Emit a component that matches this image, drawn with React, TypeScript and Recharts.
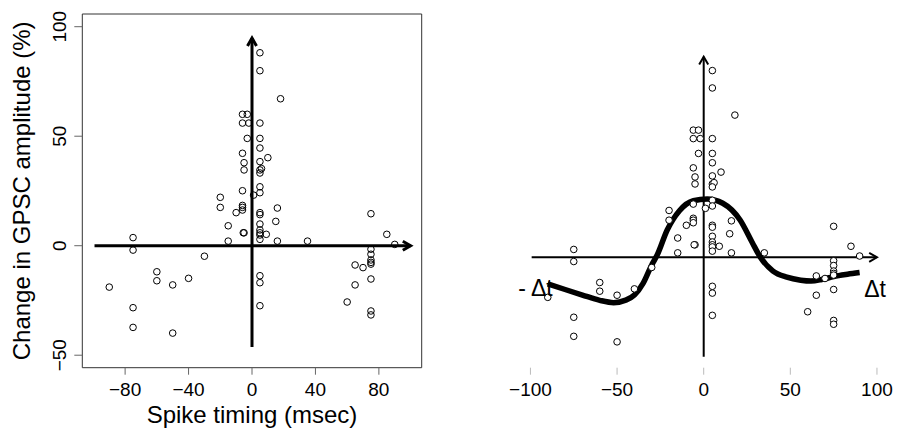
import React from 'react';
import { ComposedChart, Scatter, XAxis, YAxis, ReferenceLine, ReferenceArea, ReferenceDot } from 'recharts';

const FONT = '"Liberation Sans", Arial, Helvetica, sans-serif';

// Spike timing (msec) and change in GPSC amplitude (%) for each recorded pair
const spikeTiming = [
  5, 5, 18, -6, -3, -6, -2, 5, -3, 5, 5, -6, 5, 10, -5, -5, 5, 6, 5, 5, -6, 1, 5, -20,
  -20, -6, -6, -6, -10, 5, 5, 16, 75, -15, 5, 15, -5, -5.5, 5, 5, 5, 5, 9, 85, -15, 16, 35,
  -75, -75, 90, 75, 75, 75, 75, 75, -30, -60, -60, -40, -50, -90, 65, 70, 75, 65, 60,
  5, 5, 5, 75, 75, -75, -75, -50,
];
const ampChange = [
  88.1, 79.9, 67.1, 60, 60, 56, 56, 56, 49, 49, 44.6, 42.2, 38.4, 40.2, 37.9, 34.6, 34.6, 35.2, 33.2, 26.9, 25.1, 23.1, 24.2, 22.1,
  17.5, 18.4, 17.5, 16.3, 15.1, 15.1, 14.2, 17.2, 14.6, 9.1, 9.9, 11.1, 5.9, 5.9, 7.2, 5.9, 4.9, 2.9, 5.2, 5.2, 2.1, 2.1, 2.1,
  3.7, -2, 0.6, -1.6, -3.9, -6.5, -7.6, -8.4, -4.8, -11.9, -16, -14.9, -17.9, -18.9, -8.8, -10, -15.2, -17.9, -25.7,
  -13.7, -16.9, -27.4, -29.8, -31.6, -28.3, -37.3, -39.9,
];

// Fitted STDP curve (right panel)
const curveX = [-90, -80, -70, -60, -52, -45, -40, -35, -30, -27, -21, -14, -6, 2, 11, 21, 28, 32.5, 40, 48, 56, 62, 68, 75, 83, 90];
const curveY = [-12.5, -15.2, -17.8, -20.3, -21.4, -20.2, -17.8, -12.3, -3.6, 0.8, 13, 22, 26.7, 27.5, 25.5, 17.6, 7, 0.3, -6.5, -9.4, -10.8, -11.2, -10.5, -9.1, -8, -7.2];

const leftXTicks = [-80, -40, 0, 40, 80];
const leftYTicks = [-50, 0, 50, 100];
const rightXTicks = [-100, -50, 0, 50, 100];

const points = spikeTiming.map((x, i) => ({ x, y: ampChange[i] }));
const curve = curveX.map((x, i) => ({ x, y: curveY[i] }));

const fmt = (v: number) => (v < 0 ? '\u2212' + Math.abs(v) : String(v));

const arrowShape = (w: number) => (p: any) => {
  const { x1, y1, x2, y2 } = p;
  const ang = Math.atan2(y2 - y1, x2 - x1);
  const L = 9;
  const a = Math.PI / 6;
  const hx1 = x2 - L * Math.cos(ang - a);
  const hy1 = y2 - L * Math.sin(ang - a);
  const hx2 = x2 - L * Math.cos(ang + a);
  const hy2 = y2 - L * Math.sin(ang + a);
  return (
    <g>
      <line x1={x1} y1={y1} x2={x2} y2={y2} stroke="#000" strokeWidth={w} />
      <polyline points={`${hx1},${hy1} ${x2},${y2} ${hx2},${hy2}`} fill="none" stroke="#000" strokeWidth={w} />
    </g>
  );
};

const YTick = (props: any) => {
  const { x, y, payload } = props;
  return (
    <text x={x} y={y} transform={`rotate(-90, ${x}, ${y})`} textAnchor="middle" fontSize={19} fill="#000" fontFamily={FONT}>
      {fmt(payload.value)}
    </text>
  );
};

const openCircle = (fill: string) => (p: any) => (
  <circle cx={p.cx} cy={p.cy} r={3.3} fill={fill} stroke="#000" strokeWidth={1} />
);

const textDot = (label: string) => (p: any) => (
  <text x={p.cx} y={p.cy} textAnchor="middle" fontSize={23} fill="#000" fontFamily={FONT}>
    {label}
  </text>
);

const tickStyle = { fill: '#000', fontSize: 19, fontFamily: FONT };

export default function App() {
  return (
    <div style={{ position: 'absolute', left: 0, top: 0, width: 907, height: 435, background: '#fff', fontFamily: FONT }}>
      <div style={{ position: 'absolute', left: 0, top: 0 }}>
        <ComposedChart width={440} height={435} margin={{ top: 14, right: 18.3, left: 22.3, bottom: 17.3 }}>
          <XAxis
            type="number"
            dataKey="x"
            domain={[-107, 107]}
            allowDataOverflow
            ticks={leftXTicks}
            tickFormatter={fmt}
            axisLine={false}
            tickLine={{ stroke: '#666' }}
            tickSize={7}
            tickMargin={8}
            height={50}
            tick={tickStyle}
            interval={0}
            label={(props: any) => {
              const vb = props.viewBox || { x: 82.3, y: 367.7, width: 339.4 };
              return (
                <text x={vb.x + vb.width / 2} y={vb.y + 55} textAnchor="middle" fontSize={24} fill="#000" fontFamily={FONT}>
                  Spike timing (msec)
                </text>
              );
            }}
          />
          <YAxis
            type="number"
            dataKey="y"
            domain={[-55.7, 105.8]}
            allowDataOverflow
            ticks={leftYTicks}
            axisLine={false}
            tickLine={{ stroke: '#666' }}
            tickSize={8}
            tickMargin={8}
            width={60}
            tick={<YTick />}
            interval={0}
            label={(props: any) => {
              const vb = props.viewBox || { x: 22.3, y: 14, height: 353.7 };
              const cx = 30.5;
              const cy = vb.y + vb.height / 2;
              return (
                <text x={cx} y={cy} transform={`rotate(-90, ${cx}, ${cy})`} textAnchor="middle" fontSize={24} fill="#000" fontFamily={FONT}>
                  Change in GPSC amplitude (%)
                </text>
              );
            }}
          />
          <ReferenceArea x1={-107} x2={107} y1={-55.7} y2={105.8} fill="none" stroke="#333" strokeWidth={1} fillOpacity={0} />
          <ReferenceLine segment={[{ x: -99.3, y: 0 }, { x: 100, y: 0 }]} shape={arrowShape(3)} />
          <ReferenceLine segment={[{ x: 0, y: -46.3 }, { x: 0, y: 94.8 }]} shape={arrowShape(3)} />
          <Scatter data={points} shape={openCircle('none')} isAnimationActive={false} />
        </ComposedChart>
      </div>
      <div style={{ position: 'absolute', left: 450, top: 0 }}>
        <ComposedChart width={457} height={435} margin={{ top: 14, right: 9.6, left: 60, bottom: 17.3 }}>
          <XAxis
            type="number"
            dataKey="x"
            domain={[-111.8, 111.8]}
            allowDataOverflow
            ticks={rightXTicks}
            tickFormatter={fmt}
            axisLine={false}
            tickLine={{ stroke: '#bbb' }}
            tickSize={7}
            tickMargin={8}
            height={50}
            tick={tickStyle}
            interval={0}
          />
          <YAxis type="number" dataKey="y" domain={[-52.1, 114.8]} allowDataOverflow hide />
          <ReferenceLine segment={[{ x: -99.3, y: 0 }, { x: 100, y: 0 }]} shape={arrowShape(2)} />
          <ReferenceLine segment={[{ x: 0, y: -46.9 }, { x: 0, y: 94.6 }]} shape={arrowShape(2)} />
          <Scatter
            data={curve}
            shape={() => <g />}
            line={{ stroke: '#000', strokeWidth: 5.5 }}
            lineJointType="monotoneX"
            isAnimationActive={false}
          />
          <Scatter data={points} shape={openCircle('#fff')} isAnimationActive={false} />
          <ReferenceDot x={-97.1} y={-18.4} r={0} shape={textDot('- \u0394t')} />
          <ReferenceDot x={98.9} y={-18.6} r={0} shape={textDot('\u0394t')} />
        </ComposedChart>
      </div>
    </div>
  );
}
